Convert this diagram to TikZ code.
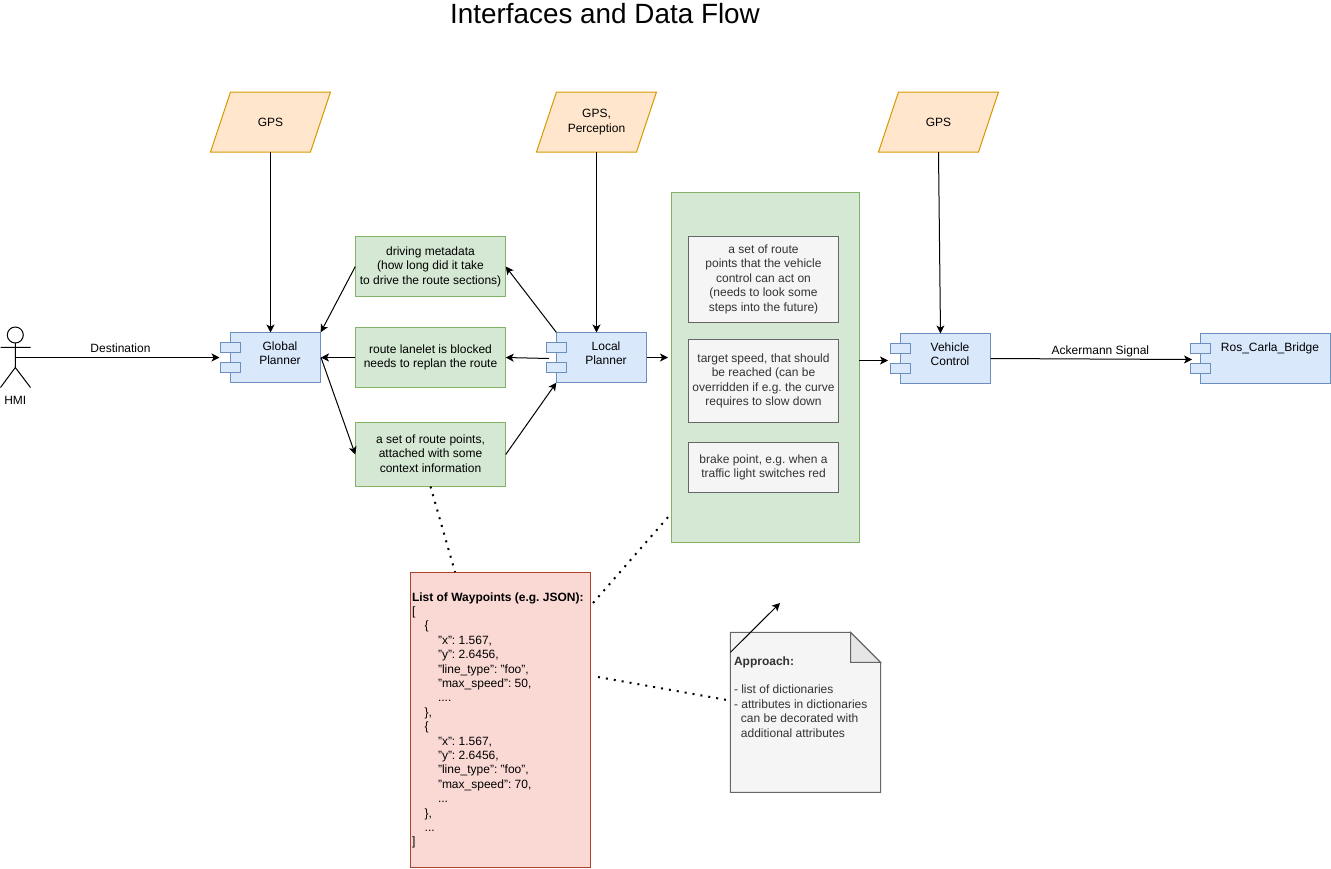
\documentclass[tikz,border=0pt]{standalone}
\usepackage{fontspec}
\setmainfont{Liberation Sans}
\frenchspacing
\usetikzlibrary{arrows.meta}
\definecolor{gfill}{HTML}{D5E8D4}\definecolor{gline}{HTML}{82B366}
\definecolor{bfill}{HTML}{DAE8FC}\definecolor{bline}{HTML}{6C8EBF}
\definecolor{ofill}{HTML}{FFE6CC}\definecolor{oline}{HTML}{D79B00}
\definecolor{rfill}{HTML}{FAD9D5}\definecolor{rline}{HTML}{AE4132}
\definecolor{nfill}{HTML}{F5F5F5}\definecolor{nline}{HTML}{666666}\definecolor{ntext}{HTML}{333333}
\definecolor{nfold}{HTML}{E6E6E6}
\newcommand{\ind}[1]{\hspace*{#1pt}}
\newcommand{\datanode}[3]{%
  \node[dataframe] (#1) at (#2,122) {};
  \draw[line width=0.75pt,draw=oline,fill=ofill] (#1.south west) -- ([xshift=15pt]#1.north west) -- (#1.north east) -- ([xshift=-15pt]#1.south east) -- cycle;
  \node[txt] (#1t) at ([yshift=0.1pt]#1.center) {#3};
}
\tikzset{
  x=0.75pt,y=-0.75pt,
  sz/.style 2 args={minimum width=#1*0.75pt,minimum height=#2*0.75pt},
  base/.style={font=\fontsize{9}{10.8}\selectfont,align=center,inner sep=0pt,outer sep=0pt,line width=0.75pt},
  txt/.style={base,text=black},
  greenbox/.style={base,draw=gline,fill=gfill},
  graybox/.style={base,draw=nline,fill=nfill,text=ntext},
  comp/.style={base,draw=bline,fill=bfill},
  port/.style={base,draw=bline,fill=bfill,sz={20.4}{10.4}},
  dataframe/.style={base,sz={120}{60}},
  flow/.style={line width=0.75pt,-{Stealth[length=6pt,width=6pt,inset=1.6pt]}},
  dots/.style={line width=1.5pt,dash pattern=on 1.5pt off 4.5pt},
  stick/.style={line width=0.75pt,draw=black}
}
\begin{document}
\begin{tikzpicture}
\useasboundingbox (0,0) rectangle (1331,868);
\node[txt,font=\fontsize{20.9}{25}\selectfont] (title) at (605,14) {Interfaces and Data Flow};

% data parallelograms
\datanode{gpsa}{270.5}{GPS}
\datanode{gpsb}{596.5}{GPS,\\Perception}
\datanode{gpsc}{938.5}{GPS}

% actor
\node[base,draw=black,circle,minimum size=16*0.75pt,fill=white] (head) at (15.3,335) {};
\coordinate (hip) at (15.3,367.5);
\coordinate (armL) at (0.5,347.3);\coordinate (armR) at (30.5,347.3);
\coordinate (legL) at (0.5,387.5);\coordinate (legR) at (30.5,387.5);
\coordinate (chest) at (15.3,357.5);
\draw[stick] (head.south) -- (hip) (armL) -- (armR) (legL) -- (hip) -- (legR);
\node[txt] (hmi) at (15.3,400) {HMI};

% components
\node[comp,sz={90.4}{50.4}] (gp) at (275.5,357.5) {};
\node[port] (gpp) at (230.5,347.5) {};\node[port] (gpq) at (230.5,367.5) {};
\node[txt] (gpt) at (280,353) {Global\\Planner};
\node[comp,sz={90.4}{50.4}] (lp) at (601.5,357.5) {};
\node[port] (lpp) at (556.5,347.5) {};\node[port] (lpq) at (556.5,367.5) {};
\node[txt] (lpt) at (606,353) {Local\\Planner};
\node[comp,sz={90.4}{50.4}] (vc) at (945.5,358.5) {};
\node[port] (vcp) at (900.5,348.5) {};\node[port] (vcq) at (900.5,368.5) {};
\node[txt] (vct) at (950,354.5) {Vehicle\\Control};
\node[comp,sz={130.4}{50.4}] (rcb) at (1265.5,358.5) {};
\node[port] (rcp) at (1200.5,348.5) {};\node[port] (rcq) at (1200.5,368.5) {};
\node[txt] (rct) at (1270,348) {Ros\_Carla\_Bridge};

% green message boxes
\node[greenbox,sz={150.4}{60.4}] (meta) at (430.5,266.5) {driving metadata\\(how long did it take\\to drive the route sections)};
\node[greenbox,sz={150.4}{60.4}] (block) at (430.5,357.5) {route lanelet is blocked\\needs to replan the route};
\node[greenbox,sz={150.4}{64.4},text depth=1.5pt] (route) at (430.5,454.5) {a set of route points,\\attached with some\\context information};

% control group
\node[base,draw=gline,fill=gfill,sz={187.7}{350}] (group) at (765.2,367) {};
\node[graybox,sz={150.4}{86.4}] (ga) at (763.5,279.2) {a set of route\\points that the vehicle\\control can act on\\(needs to look some\\steps into the future)};
\node[graybox,sz={150.4}{83}] (gb) at (763.5,380.8) {target speed, that should\\be reached (can be\\overridden if e.g. the curve\\requires to slow down};
\node[graybox,sz={150.4}{50}] (gc) at (763.5,467.3) {brake point, e.g. when a\\traffic light switches red};

% waypoints
\node[base,draw=rline,fill=rfill,sz={180.4}{295.4}] (way) at (500.5,720) {};
\node[txt,align=left,anchor=west] (wayt) at (412,720.4) {\textbf{List of Waypoints (e.g. JSON):}\\
{[}\\
\ind{9.5}\{\\
\ind{19.5}"x": 1.567,\\
\ind{19.5}"y": 2.6456,\\
\ind{19.5}"line\_type": "foo",\\
\ind{19.5}"max\_speed": 50,\\
\ind{19.5}....\\
\ind{9.5}\},\\
\ind{9.5}\{\\
\ind{19.5}"x": 1.567,\\
\ind{19.5}"y": 2.6456,\\
\ind{19.5}"line\_type": "foo",\\
\ind{19.5}"max\_speed": 70,\\
\ind{19.5}...\\
\ind{9.5}\},\\
\ind{9.5}...\\
{]}};

% note
\coordinate (na) at (730.4,632.4);\coordinate (nb) at (850.6,632.4);\coordinate (nc) at (880.6,662.4);
\coordinate (nd) at (880.6,792.4);\coordinate (ne) at (730.4,792.4);\coordinate (nf) at (850.6,662.4);
\draw[line width=0.75pt,draw=nline,fill=nfill] (na) -- (nb) -- (nc) -- (nd) -- (ne) -- cycle;
\draw[line width=0.75pt,draw=nline,fill=nfold] (nb) -- (nc) -- (nf) -- cycle;
\node[txt,text=ntext,align=left,anchor=west] (notet) at (734,696.7) {\textbf{Approach:}\\[10.8pt]- list of dictionaries\\- attributes in dictionaries\\\ind{5.2}can be decorated with\\\ind{5.2}additional attributes};

% free connector ends
\coordinate (gpin) at (219.5,357.5);
\coordinate (gpright) at (321,357.5);
\coordinate (lpout) at (549,358.5);
\coordinate (lpright) at (646.7,357.5);
\coordinate (groupin) at (668,357.5);
\coordinate (groupout) at (859,360.5);
\coordinate (vcin) at (888,360.5);
\coordinate (vcout) at (990.7,358.5);
\coordinate (rcbin) at (1192,359.5);
\coordinate (waya) at (593,603);
\coordinate (groupa) at (669,516);
\coordinate (wayb) at (598,677);
\coordinate (notea) at (727,700);
\coordinate (notec) at (730.4,652.3);
\coordinate (notetip) at (780,603);
\coordinate (routeS) at (430.5,486.5);
\coordinate (wayN) at (455,572);
\coordinate (gpN) at (270.5,332.5);
\coordinate (lpN) at (596.5,332.5);
\coordinate (vcN) at (940.5,333.5);

% connectors
\draw[flow] (chest) -- node[txt,above=3.6pt,pos=0.515] (dest) {Destination} (gpin);
\draw[flow] (gpsa.south) -- (gpN);
\draw[flow] (gpsb.south) -- (lpN);
\draw[flow] (gpsc.south) -- (vcN);
\draw[flow] (meta.west) -- (gp.north east);
\draw[flow] (block.west) -- (gpright);
\draw[flow] (gpright) -- (route.west);
\draw[flow] (route.east) -- (lp.south west);
\draw[flow] (lp.north west) -- (meta.east);
\draw[flow] (lpout) -- (block.east);
\draw[flow] (lpright) -- (groupin);
\draw[flow] (groupout) -- (vcin);
\draw[flow] (vcout) -- node[txt,above=1.2pt,pos=0.545] (acker) {Ackermann Signal} (rcbin);
\draw[flow] (notec) -- (notetip);
\draw[dots] (routeS) -- (wayN);
\draw[dots] (waya) -- (groupa);
\draw[dots] (wayb) -- (notea);
\end{tikzpicture}
\end{document}
